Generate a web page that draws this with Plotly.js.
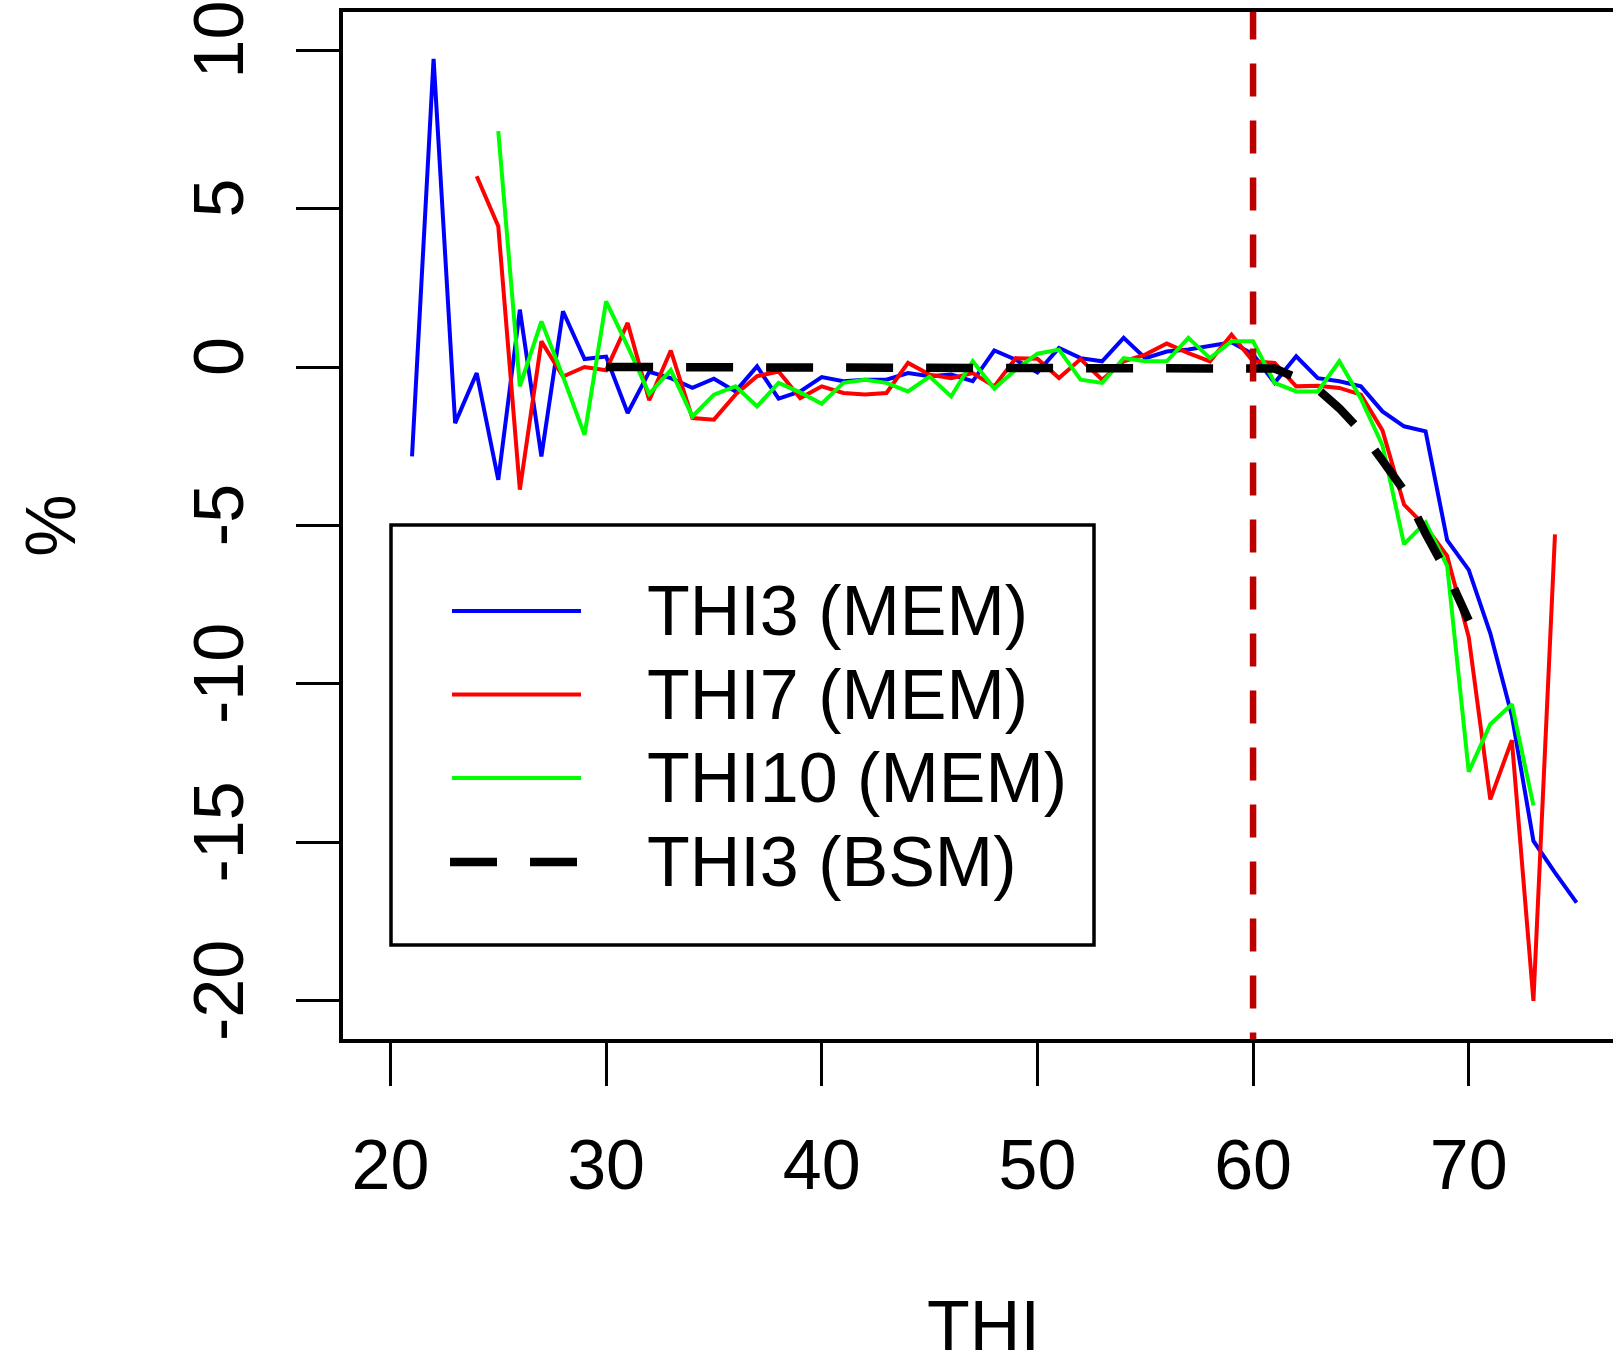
<!DOCTYPE html>
<html>
<head>
<meta charset="utf-8">
<script src="https://cdn.plot.ly/plotly-3.0.1.min.js"></script>
<style>
html,body{margin:0;padding:0;overflow:hidden;background:#ffffff;}
#chart{width:1631px;height:1365px;}
</style>
</head>
<body>
<div id="chart"></div>
<script>
// ---------------- data ----------------
const seriesNames = ["THI3 (MEM)", "THI7 (MEM)", "THI10 (MEM)", "THI3 (BSM)"];

const thi3MemX = [21,22,23,24,25,26,27,28,29,30,31,32,33,34,35,36,37,38,39,40,41,42,43,44,45,46,47,48,49,50,51,52,53,54,55,56,57,58,59,60,61,62,63,64,65,66,67,68,69,70,71,72,73,74,75];
const thi3MemY = [-2.82,9.72,-1.77,-0.19,-3.56,1.81,-2.82,1.76,0.25,0.33,-1.45,-0.15,-0.35,-0.66,-0.37,-0.77,0.02,-1.0,-0.77,-0.32,-0.45,-0.4,-0.4,-0.19,-0.29,-0.24,-0.45,0.52,0.23,-0.17,0.6,0.28,0.18,0.92,0.28,0.49,0.55,0.65,0.78,0.4,-0.5,0.34,-0.35,-0.45,-0.61,-1.4,-1.87,-2.03,-5.46,-6.4,-8.4,-11.0,-14.95,-15.95,-16.9];

const thi7MemX = [24,25,26,27,28,29,30,31,32,33,34,35,36,37,38,39,40,41,42,43,44,45,46,47,48,49,50,51,52,53,54,55,56,57,58,59,60,61,62,63,64,65,66,67,68,69,70,71,72,73,74];
const thi7MemY = [6.02,4.44,-3.87,0.81,-0.3,0.0,-0.1,1.39,-1.05,0.52,-1.61,-1.66,-0.87,-0.29,-0.14,-0.98,-0.61,-0.82,-0.87,-0.82,0.13,-0.24,-0.35,-0.19,-0.61,0.28,0.26,-0.35,0.25,-0.4,0.18,0.39,0.74,0.44,0.18,1.02,0.18,0.13,-0.61,-0.59,-0.66,-0.87,-2.0,-4.34,-5.03,-5.96,-8.52,-13.64,-11.77,-20.0,-5.28];

const thi10MemX = [25,26,27,28,29,30,31,32,33,34,35,36,37,38,39,40,41,42,43,44,45,46,47,48,49,50,51,52,53,54,55,56,57,58,59,60,61,62,63,64,65,66,67,68,69,70,71,72,73];
const thi10MemY = [7.44,-0.61,1.44,-0.3,-2.14,2.07,0.65,-0.85,-0.1,-1.56,-0.87,-0.61,-1.24,-0.5,-0.8,-1.16,-0.5,-0.4,-0.5,-0.77,-0.3,-0.93,0.18,-0.68,-0.08,0.42,0.55,-0.4,-0.5,0.28,0.18,0.18,0.92,0.28,0.81,0.81,-0.5,-0.77,-0.77,0.18,-1.0,-2.47,-5.59,-4.9,-6.27,-12.77,-11.27,-10.64,-13.83];

const thi3BsmX = [30,31,32,33,34,35,36,37,38,39,40,41,42,43,44,45,46,47,48,49,50,51,52,53,54,55,56,57,58,59,60,61,62,63,64,65,66,67,68,69,70];
const thi3BsmY = [0,0,0,0,0,0,0,0,0,0,0,0,0,0,0,0,0,0,0,0,0,0,0,0,0,0,0,0,0,0,0,-0.05,-0.33,-0.7,-1.3,-2.03,-2.95,-3.9,-5.25,-6.5,-8.0];

const thresholdTHI = 60;

const xTickVals = [20,30,40,50,60,70];
const xTickText = ["20","30","40","50","60","70"];
const yTickVals = [-20,-15,-10,-5,0,5,10];
const yTickText = ["-20","-15","-10","-5","0","5","10"];

// ---------------- styling / layout ----------------
const FONT = "Liberation Sans, Arial, Helvetica, sans-serif";
const W = 1631, H = 1365, ML = 343, MR = 7, MT = 12, MB = 326;
const PW = W - ML - MR, PH = H - MT - MB;
const px = v => (v - ML) / PW;
const py = v => 1 - (v - MT) / PH;

const colors = ["#0000FF", "#FF0000", "#00FF00", "#000000"];
const lineStyles = [
  {color: colors[0], width: 4},
  {color: colors[1], width: 4},
  {color: colors[2], width: 4},
  {color: colors[3], width: 8.5, dash: "47px,33px"}
];

const xs = [thi3MemX, thi7MemX, thi10MemX, thi3BsmX];
const ys = [thi3MemY, thi7MemY, thi10MemY, thi3BsmY];

const traces = xs.map((x, i) => ({
  type: "scatter",
  mode: "lines",
  x: x,
  y: ys[i],
  name: seriesNames[i],
  line: lineStyles[i],
  showlegend: false,
  hoverinfo: "skip"
}));

// legend drawn R-style (box, long samples, text)
const legBox = {x0: 391, y0: 525, x1: 1094, y1: 945};
const legRows = [611, 694.5, 778, 862];
const legLineX = [452, 581];
const legTextX = 645;

const shapes = [
  {
    type: "line", xref: "x", yref: "y",
    x0: thresholdTHI, x1: thresholdTHI, y0: 11.37, y1: -21.4,
    line: {color: "#BB0000", width: 6.5, dash: "33px,24px"},
    layer: "above"
  },
  {
    type: "rect", xref: "paper", yref: "paper",
    x0: px(legBox.x0), x1: px(legBox.x1), y0: py(legBox.y1), y1: py(legBox.y0),
    line: {color: "#000000", width: 3.5},
    fillcolor: "rgba(0,0,0,0)",
    layer: "above"
  }
];
legRows.forEach((r, i) => {
  shapes.push({
    type: "line", xref: "paper", yref: "paper",
    x0: px(i === 3 ? 450 : legLineX[0]), x1: px(legLineX[1]), y0: py(r), y1: py(r),
    line: lineStyles[i],
    layer: "above"
  });
});

const annotations = legRows.map((r, i) => ({
  xref: "paper", yref: "paper",
  x: px(legTextX), y: py(r),
  xanchor: "left", yanchor: "middle",
  text: seriesNames[i],
  showarrow: false,
  font: {family: FONT, size: 70, color: "#000000"}
}));

const axisCommon = {
  showgrid: false,
  zeroline: false,
  showline: true,
  mirror: true,
  linecolor: "#000000",
  linewidth: 4,
  ticks: "outside",
  ticklen: 43,
  tickwidth: 3,
  tickcolor: "#000000",
  tickfont: {family: FONT, size: 70, color: "#000000"},
  tickmode: "array",
  fixedrange: true
};

const layout = {
  width: W,
  height: H,
  margin: {l: ML, r: MR, t: MT, b: MB},
  paper_bgcolor: "#ffffff",
  plot_bgcolor: "#ffffff",
  font: {family: FONT, color: "#000000"},
  showlegend: false,
  xaxis: Object.assign({}, axisCommon, {
    range: [17.8, 77.2],
    tickvals: xTickVals,
    ticktext: xTickText,
    ticklabelstandoff: 19,
    title: {text: "THI", font: {family: FONT, size: 70, color: "#000000"}, standoff: 100}
  }),
  yaxis: Object.assign({}, axisCommon, {
    range: [-21.2, 11.2],
    tickvals: yTickVals,
    ticktext: yTickText,
    tickangle: -90,
    ticklabelstandoff: 25,
    title: {text: "%", font: {family: FONT, size: 70, color: "#000000"}, standoff: 83}
  }),
  shapes: shapes,
  annotations: annotations
};

Plotly.newPlot("chart", traces, layout, {displayModeBar: false, staticPlot: true});
</script>
</body>
</html>
